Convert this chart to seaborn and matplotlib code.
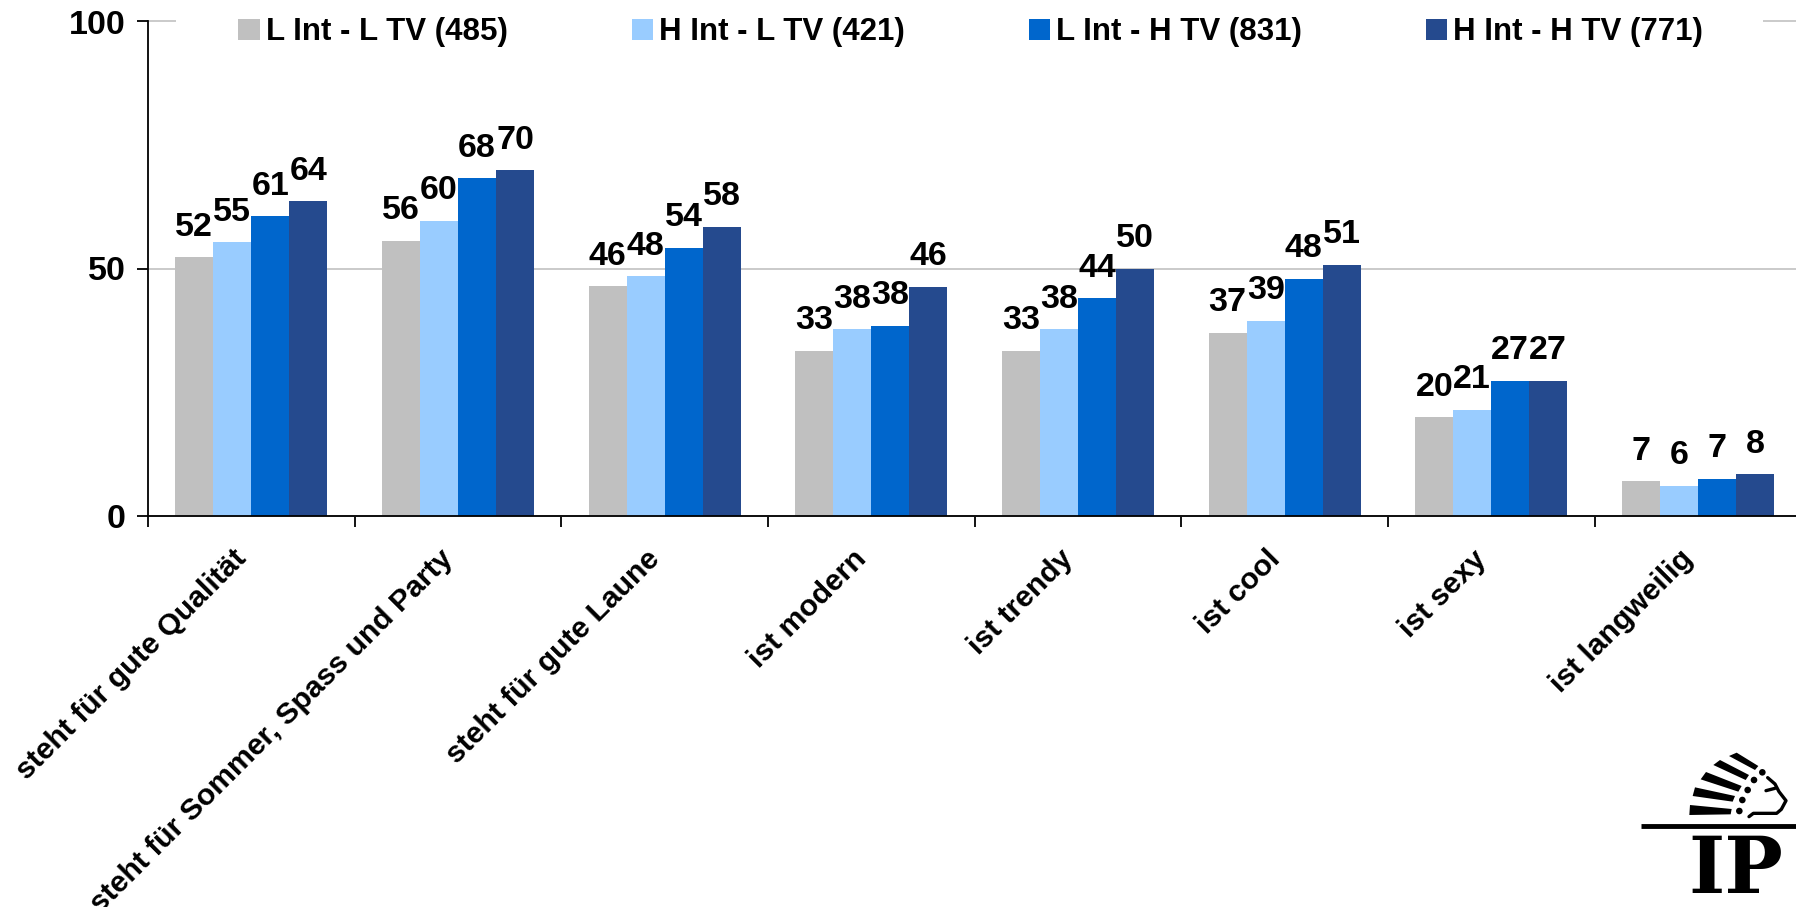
import matplotlib
matplotlib.use("Agg")
import matplotlib.pyplot as plt
from matplotlib.patches import Polygon, Circle, Rectangle
from matplotlib.transforms import ScaledTranslation
import pandas as pd
import seaborn as sns

attributes = ["steht für gute Qualität", "steht für Sommer, Spass und Party",
              "steht für gute Laune", "ist modern", "ist trendy", "ist cool",
              "ist sexy", "ist langweilig"]
groups = ["L Int - L TV (485)", "H Int - L TV (421)", "L Int - H TV (831)", "H Int - H TV (771)"]
low_low = [52.3, 55.6, 46.4, 33.3, 33.3, 37.0, 19.9, 6.9]
high_low = [55.3, 59.7, 48.4, 37.7, 37.7, 39.4, 21.4, 6.0]
low_high = [60.6, 68.3, 54.2, 38.4, 44.0, 47.9, 27.3, 7.4]
high_high = [63.6, 69.9, 58.4, 46.3, 50.0, 50.7, 27.3, 8.3]
colors = ["#C0C0C0", "#99CCFF", "#0066CC", "#254A8E"]
y_ticks = [0, 50, 100]

W, H = 1796, 907
sns.set_theme(style="white")
plt.rcParams["font.family"] = ["Liberation Sans", "DejaVu Sans"]
plt.rcParams["font.weight"] = "bold"

df = pd.DataFrame({
    "Attribut": attributes * 4,
    "Gruppe": [g for g in groups for _ in attributes],
    "Wert": low_low + high_low + low_high + high_high,
})

fig = plt.figure(figsize=(W / 100, H / 100), dpi=100, facecolor="white")
ax = fig.add_axes([148 / W, 1 - 515.5 / H, (W - 148) / W, (515.5 - 21.5) / H])

sns.barplot(data=df, x="Attribut", y="Wert", hue="Gruppe", order=attributes, hue_order=groups,
            palette=colors, width=0.735, gap=0, saturation=1, ax=ax, errorbar=None,
            linewidth=0, edgecolor="none")

for container in ax.containers:
    ax.bar_label(container, fmt="%.0f", padding=10.5, fontsize=24.5, fontweight="bold", color="black")

ax.set_xlabel("")
ax.set_ylabel("")
ax.set_axisbelow(True)
ax.yaxis.grid(True, color="#C6C6C6", lw=1.3, clip_on=False)
ax.xaxis.grid(False)
sns.despine(ax=ax, top=True, right=True)
for side in ("left", "bottom"):
    ax.spines[side].set_color("black")
    ax.spines[side].set_linewidth(1.3)

ax.set_yticks(y_ticks)
ax.tick_params(axis="y", left=True, length=8, width=1.3, color="black", pad=8, labelsize=24.5, labelcolor="black")

# Category labels sit at the group centres; tick marks fall on the group boundaries.
ax.set_xticks(range(len(attributes)))
ax.set_xticklabels(attributes, rotation=45, ha="right", rotation_mode="anchor",
                   fontsize=21.7, color="black")
ax.tick_params(axis="x", bottom=False, pad=15)
label_shift = ScaledTranslation(-19 / 100, 0, fig.dpi_scale_trans)
for label in ax.get_xticklabels():
    label.set_transform(label.get_transform() + label_shift)
ax.set_xticks([i - 0.5 for i in range(len(attributes) + 1)], minor=True)
ax.tick_params(axis="x", which="minor", bottom=True, length=8, width=1.3, color="black")

# Limits go last: setting the boundary ticks would otherwise widen the view.
ax.set_xlim(-0.5, (W - 148) / 206.66 - 0.5)
ax.set_ylim(0, 100)

# White band behind the legend interrupts the top gridline.
fig_band = Rectangle((176 / W, 1 - 40 / H), (1763 - 176) / W, 30 / H, transform=fig.transFigure,
                     facecolor="white", edgecolor="none", zorder=1.5, clip_on=False)
ax.add_patch(fig_band)

legend = ax.legend(loc="upper left", bbox_to_anchor=(229 / W, 1 - 8 / H), bbox_transform=fig.transFigure,
                   ncols=4, frameon=False,
                   fontsize=22.5, handlelength=0.68, handleheight=0.68, handletextpad=0.2,
                   columnspacing=3.96, borderpad=0.3, borderaxespad=0)
for t in legend.get_texts():
    t.set_color("black")
    t.set_fontweight("bold")

# Company mark in the lower right corner, laid out in pixel space.
logo = fig.add_axes([0, 0, 1, 1], facecolor="none")
logo.set_xlim(0, W)
logo.set_ylim(H, 0)
logo.axis("off")


def lx(v):
    return 1580 + v / 3


def ly(v):
    return 730 + v / 3


feathers = [
    [(330, 225), (455, 237), (452, 253), (328, 255)],
    [(345, 172), (465, 198), (458, 215), (338, 198)],
    [(378, 126), (485, 168), (475, 185), (362, 148)],
    [(420, 90), (507, 135), (497, 150), (400, 105)],
    [(470, 68), (535, 108), (525, 120), (447, 78)],
]
for feather in feathers:
    logo.add_patch(Polygon([(lx(a), ly(b)) for a, b in feather], closed=True, color="black", lw=0))
for a, b in [(478, 243), (487, 210), (503, 180), (522, 150), (547, 127)]:
    logo.add_patch(Circle((lx(a), ly(b)), 3.3, color="black", lw=0))
profile = [(563, 143), (585, 162), (597, 185), (618, 212), (604, 238), (590, 250), (520, 250), (507, 260)]
logo.plot([lx(a) for a, b in profile], [ly(b) for a, b in profile], color="black", lw=2.4)
brow = [(558, 182), (585, 175)]
logo.plot([lx(a) for a, b in brow], [ly(b) for a, b in brow], color="black", lw=2.4)
logo.plot([lx(182), W], [ly(287), ly(287)], color="black", lw=3.5, solid_capstyle="butt")
logo.text(lx(468), ly(490), "IP", family="DejaVu Serif", fontweight="bold", fontsize=56,
          ha="center", va="baseline", color="black")

fig.savefig("out.png", dpi=100, facecolor="white")
